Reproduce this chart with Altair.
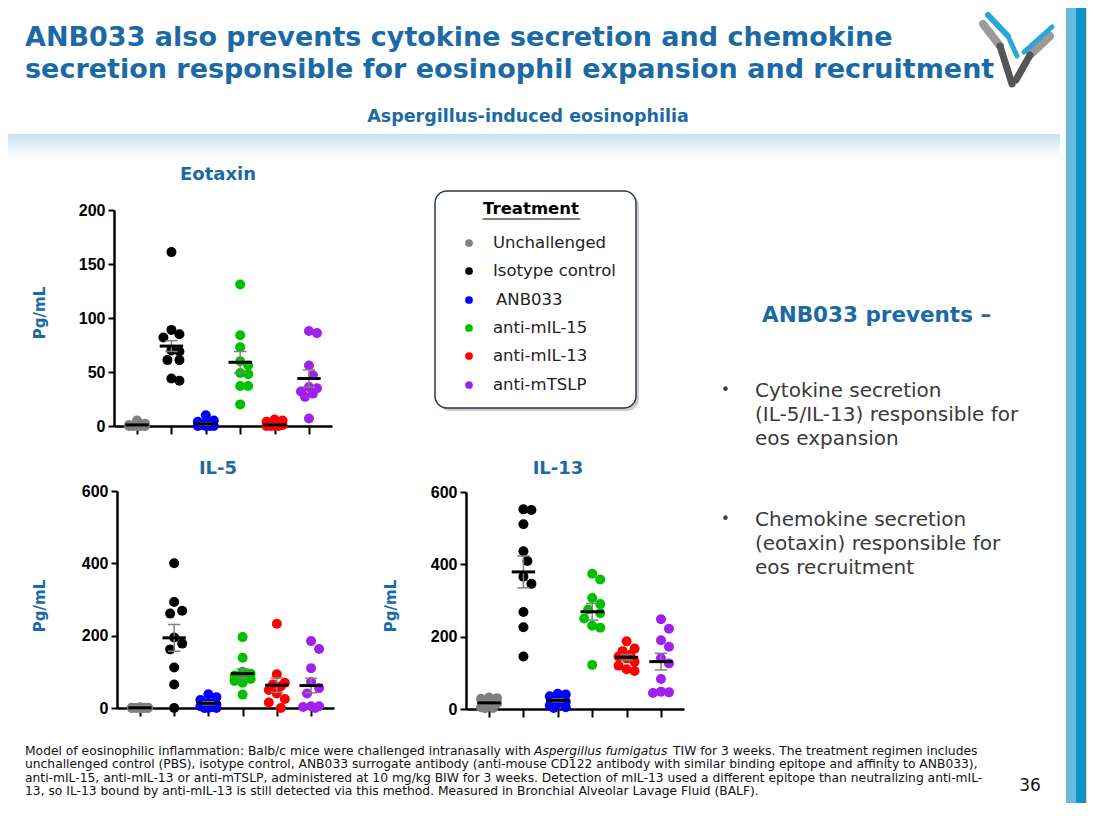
import altair as alt
import pandas as pd
import numpy as np

# ---------------- canvas ----------------
W, H = 1079, 795
OX, OY = 8, 8  # page margin of the embed

BLUE = "#1b6aa5"

# ---------------- data ----------------
groups = ["Unchallenged", "Isotype control", "ANB033", "anti-mIL-15", "anti-mIL-13", "anti-mTSLP"]
colors = ["#808080", "#000000", "#0000ff", "#00c000", "#ff0000", "#a020f0"]

eotaxin_vals = [
    [5, 2, 1, 1, 0.5, 0, 0, 0, 0, 0],
    [161, 89, 85, 82, 70, 69, 61, 61, 44, 42],
    [10, 5, 4, 3, 2, 1, 0, 0, 0, 0],
    [131, 84, 73, 60, 56, 49, 48, 37, 37, 20],
    [6, 5, 4, 2, 1, 1, 0, 0, 0, 0],
    [88, 86, 56, 47, 36, 35, 32, 30, 27, 7],
]
eotaxin_mean = [1, 74, 2, 59, 1, 44]
eotaxin_sem = [0.6, 5, 1.0, 10, 0.7, 8]

il5_vals = [
    [2, 1, 1, 1, 0, 0, 0, 0, 0, 0],
    [400, 293, 269, 261, 195, 178, 162, 112, 65, 0],
    [38, 30, 22, 15, 10, 5, 3, 0, 0, 0],
    [196, 139, 100, 95, 90, 85, 80, 75, 70, 37],
    [233, 93, 70, 65, 60, 50, 40, 25, 15, 0],
    [185, 163, 110, 72, 55, 40, 5, 5, 3, 0],
]
il5_mean = [0.5, 194, 13, 95, 63, 62]
il5_sem = [0.3, 37, 4, 13, 20, 20]

il13_vals = [
    [32, 30, 28, 25, 20, 15, 10, 5, 3, 2],
    [552, 550, 511, 436, 409, 366, 346, 268, 226, 145],
    [42, 40, 35, 30, 25, 20, 15, 10, 5, 3],
    [374, 358, 307, 290, 275, 265, 250, 230, 225, 122],
    [187, 167, 160, 150, 145, 140, 130, 120, 110, 105],
    [248, 222, 190, 172, 140, 126, 83, 48, 46, 44],
]
il13_mean = [17, 379, 24, 269, 143, 131]
il13_sem = [4, 44, 4, 23, 8, 23]

eotaxin_ticks = [0, 50, 100, 150, 200]
il_ticks = [0, 200, 400, 600]

legend_labels = groups
bullet1 = ["Cytokine secretion", "(IL-5/IL-13) responsible for", "eos expansion"]
bullet2 = ["Chemokine secretion", "(eotaxin) responsible for", "eos recruitment"]


# ---------------- helpers ----------------
def swarm(values, px_per_unit, d=10.5, cands=(0, 4, -4, 8, -8)):
    """Greedy beeswarm offsets (in px) so that dots at similar height spread sideways."""
    placed = []
    out = [0.0] * len(values)
    order = sorted(range(len(values)), key=lambda i: -values[i])
    for i in order:
        y = values[i] * px_per_unit
        best, bestd = None, -1
        for c in cands:
            md = min([np.hypot(c - px, y - py) for px, py in placed], default=1e9)
            if md >= d:
                best = c
                break
            if md > bestd:
                bestd, best = md, c
        placed.append((best, y))
        out[i] = best
    return out


def panel(vals, means, sems, xr, yr, ydom, yticks):
    # xr, yr in page pixels
    xr = [xr[0] - OX, xr[1] - OX]
    yr = [yr[0] - OY, yr[1] - OY]
    step = (xr[1] - xr[0]) / 6.34
    ppu = (yr[0] - yr[1]) / (ydom[1] - ydom[0])
    rows = []
    for gi, g in enumerate(groups):
        offs = swarm(vals[gi], ppu)
        for v, o in zip(vals[gi], offs):
            rows.append({"group": g, "x": gi + 1 + o / step, "v": v})
    df = pd.DataFrame(rows)
    mdf = pd.DataFrame({
        "group": groups,
        "xi": [i + 1 for i in range(6)],
        "xl": [i + 1 - 0.34 for i in range(6)],
        "xr": [i + 1 + 0.34 for i in range(6)],
        "cl": [i + 1 - 0.18 for i in range(6)],
        "cr": [i + 1 + 0.18 for i in range(6)],
        "m": means,
        "lo": [m - s for m, s in zip(means, sems)],
        "hi": [m + s for m, s in zip(means, sems)],
    })
    caps = pd.concat([
        mdf[["cl", "cr", "lo"]].rename(columns={"lo": "cy"}),
        mdf[["cl", "cr", "hi"]].rename(columns={"hi": "cy"}),
    ])
    xs = alt.Scale(domain=[0.33, 6.67], range=xr, nice=False, zero=False)
    ys = alt.Scale(domain=ydom, range=yr, nice=False, zero=False)

    xaxis = alt.Axis(orient="bottom", offset=yr[0] - H, values=[1, 2, 3, 4, 5, 6],
                     labels=False, ticks=True, tickSize=8, tickWidth=2, tickColor="black",
                     domainColor="black", domainWidth=2.5, grid=False, title=None)
    yaxis = alt.Axis(orient="left", offset=-xr[0], values=yticks, tickSize=6, tickWidth=2,
                     tickColor="black", domainColor="black", domainWidth=2.5, grid=False,
                     title=None, labelFont="Liberation Sans", labelFontWeight="bold",
                     labelFontSize=16, labelColor="black", labelPadding=3)

    pts = alt.Chart(df).mark_circle(size=100, opacity=1).encode(
        x=alt.X("x:Q", scale=xs, axis=xaxis),
        y=alt.Y("v:Q", scale=ys, axis=yaxis),
        color=alt.Color("group:N", scale=alt.Scale(domain=groups, range=colors), legend=None),
    )
    sem = alt.Chart(mdf).mark_rule(color="#808080", strokeWidth=1.5).encode(
        x=alt.X("xi:Q", scale=xs, axis=None),
        y=alt.Y("lo:Q", scale=ys, axis=None),
        y2="hi:Q",
    )
    cap = alt.Chart(caps).mark_rule(color="#808080", strokeWidth=1.5).encode(
        x=alt.X("cl:Q", scale=xs, axis=None),
        x2="cr:Q",
        y=alt.Y("cy:Q", scale=ys, axis=None),
    )
    mean = alt.Chart(mdf).mark_rule(color="black", strokeWidth=3).encode(
        x=alt.X("xl:Q", scale=xs, axis=None),
        x2="xr:Q",
        y=alt.Y("m:Q", scale=ys, axis=None),
    )
    return [pts, sem, cap, mean]


def txt(s, x, y, size, color="black", weight="normal", font="DejaVu Sans", align="left",
        angle=0, style="normal"):
    return alt.Chart(pd.DataFrame({"t": [s]})).mark_text(
        align=align, baseline="middle", fontSize=size, font=font, fontWeight=weight,
        color=color, angle=angle, fontStyle=style,
    ).encode(text="t:N", x=alt.value(x - OX), y=alt.value(y - OY))


def rect(x1, y1, x2, y2, **kw):
    return alt.Chart(pd.DataFrame({"a": [0]})).mark_rect(**kw).encode(
        x=alt.value(x1 - OX), x2=alt.value(x2 - OX), y=alt.value(y1 - OY), y2=alt.value(y2 - OY))


def seg(x1, y1, x2, y2, color, w):
    return alt.Chart(pd.DataFrame({"a": [0]})).mark_rule(color=color, strokeWidth=w, strokeCap="round").encode(
        x=alt.value(x1 - OX), x2=alt.value(x2 - OX), y=alt.value(y1 - OY), y2=alt.value(y2 - OY))


layers = []

# ---------- decorations ----------
band = rect(0, 134, 1060, 158, fill=alt.Gradient(
    gradient="linear",
    stops=[alt.GradientStop(color="#c9e2ef", offset=0), alt.GradientStop(color="#ffffff", offset=1)],
    x1=0, x2=0, y1=0, y2=1))
layers.append(band)
layers.append(rect(1066, 0, 1076, 820, fill="#6ab9de"))
layers.append(rect(1076, 0, 1086, 820, fill="#0a93c9"))
layers.append(rect(1086, 0, 1100, 820, fill="#f8cb9c"))

# logo (approximate swooshes)
layers += [
    seg(983, 24, 1000, 46, "#9a9a9a", 8),
    seg(1000, 46, 1012, 84, "#555555", 7),
    seg(988, 15, 1008, 36, "#27a9d6", 6),
    seg(1008, 36, 1017, 56, "#27a9d6", 5),
    seg(1050, 36, 1030, 55, "#9a9a9a", 8),
    seg(1030, 55, 1016, 80, "#555555", 7),
    seg(1052, 27, 1024, 52, "#27a9d6", 5),
]

# titles
layers.append(txt("ANB033 also prevents cytokine secretion and chemokine", 25, 38, 27, BLUE, "bold"))
layers.append(txt("secretion responsible for eosinophil expansion and recruitment", 25, 70, 27, BLUE, "bold"))
layers.append(txt("Aspergillus-induced eosinophilia", 528, 117, 17.5, BLUE, "bold", align="center"))

# panel titles and axis titles
layers.append(txt("Eotaxin", 218, 175, 18, BLUE, "bold", align="center"))
layers.append(txt("IL-5", 218, 469, 18, BLUE, "bold", align="center"))
layers.append(txt("IL-13", 558, 469, 18, BLUE, "bold", align="center"))
layers.append(txt("Pg/mL", 40, 313, 15, BLUE, "bold", align="center", angle=270))
layers.append(txt("Pg/mL", 40, 606, 15, BLUE, "bold", align="center", angle=270))
layers.append(txt("Pg/mL", 391, 606, 15, BLUE, "bold", align="center", angle=270))

# ---------- panels ----------
layers += panel(eotaxin_vals, eotaxin_mean, eotaxin_sem, [114, 332], [426, 210], [0, 200], eotaxin_ticks)
layers += panel(il5_vals, il5_mean, il5_sem, [117, 334], [708, 491], [0, 600], il_ticks)
layers += panel(il13_vals, il13_mean, il13_sem, [466, 684], [709, 492], [0, 600], il_ticks)

# ---------- legend box ----------
layers.append(rect(438, 194, 639, 411, fill="#9a9a9a", cornerRadius=12, opacity=0.5))
layers.append(rect(435, 191, 636, 408, fill="white", stroke="#2b3a4a", strokeWidth=1.5, cornerRadius=12))
layers.append(txt("Treatment", 531, 209, 16.5, "black", "bold", align="center"))
layers.append(seg(483, 219, 580, 219, "black", 1.2))
leg_y = [243, 271, 300, 328, 356, 385]
for i, g in enumerate(legend_labels):
    layers.append(alt.Chart(pd.DataFrame({"a": [0]})).mark_circle(size=60, opacity=1, color=colors[i]).encode(
        x=alt.value(469 - OX), y=alt.value(leg_y[i] - OY)))
    layers.append(txt(g, 496 if g == "ANB033" else 493, leg_y[i], 16.5, "#222222"))

# ---------- right-hand text ----------
layers.append(txt("ANB033 prevents \u2013", 762, 316, 21.5, BLUE, "bold"))
for j, line in enumerate(bullet1):
    layers.append(txt(line, 755, 391 + 24 * j, 20, "#3a3a3a"))
for j, line in enumerate(bullet2):
    layers.append(txt(line, 755, 520 + 24 * j, 20, "#3a3a3a"))
layers.append(txt("\u2022", 721, 390, 15, "#3a3a3a"))
layers.append(txt("\u2022", 721, 519, 15, "#3a3a3a"))

# ---------- footnote ----------
FN = 12.3
layers.append(txt("Model of eosinophilic inflammation: Balb/c mice were challenged intranasally with", 25, 751, FN, "#111111"))
layers.append(txt("Aspergillus fumigatus", 534, 751, FN, "#111111", style="italic"))
layers.append(txt("TIW for 3 weeks. The treatment regimen includes", 673, 751, FN, "#111111"))
layers.append(txt("unchallenged control (PBS), isotype control, ANB033 surrogate antibody (anti-mouse CD122 antibody with similar binding epitope and affinity to ANB033),", 25, 764, FN, "#111111"))
layers.append(txt("anti-mIL-15, anti-mIL-13 or anti-mTSLP, administered at 10 mg/kg BIW for 3 weeks. Detection of mIL-13 used a different epitope than neutralizing anti-mIL-", 25, 778, FN, "#111111"))
layers.append(txt("13, so IL-13 bound by anti-mIL-13 is still detected via this method. Measured in Bronchial Alveolar Lavage Fluid (BALF).", 25, 791, FN, "#111111"))
layers.append(txt("36", 1030, 786, 17, "#111111", align="center"))

chart = alt.layer(*layers).resolve_scale(
    x="independent", y="independent", color="independent"
).resolve_axis(x="independent", y="independent").properties(
    width=W, height=H, autosize=alt.AutoSizeParams(type="none"), padding=0, background="white"
).configure_view(strokeWidth=0)

chart.save("out.html", embed_options={"renderer": "svg", "actions": False})
